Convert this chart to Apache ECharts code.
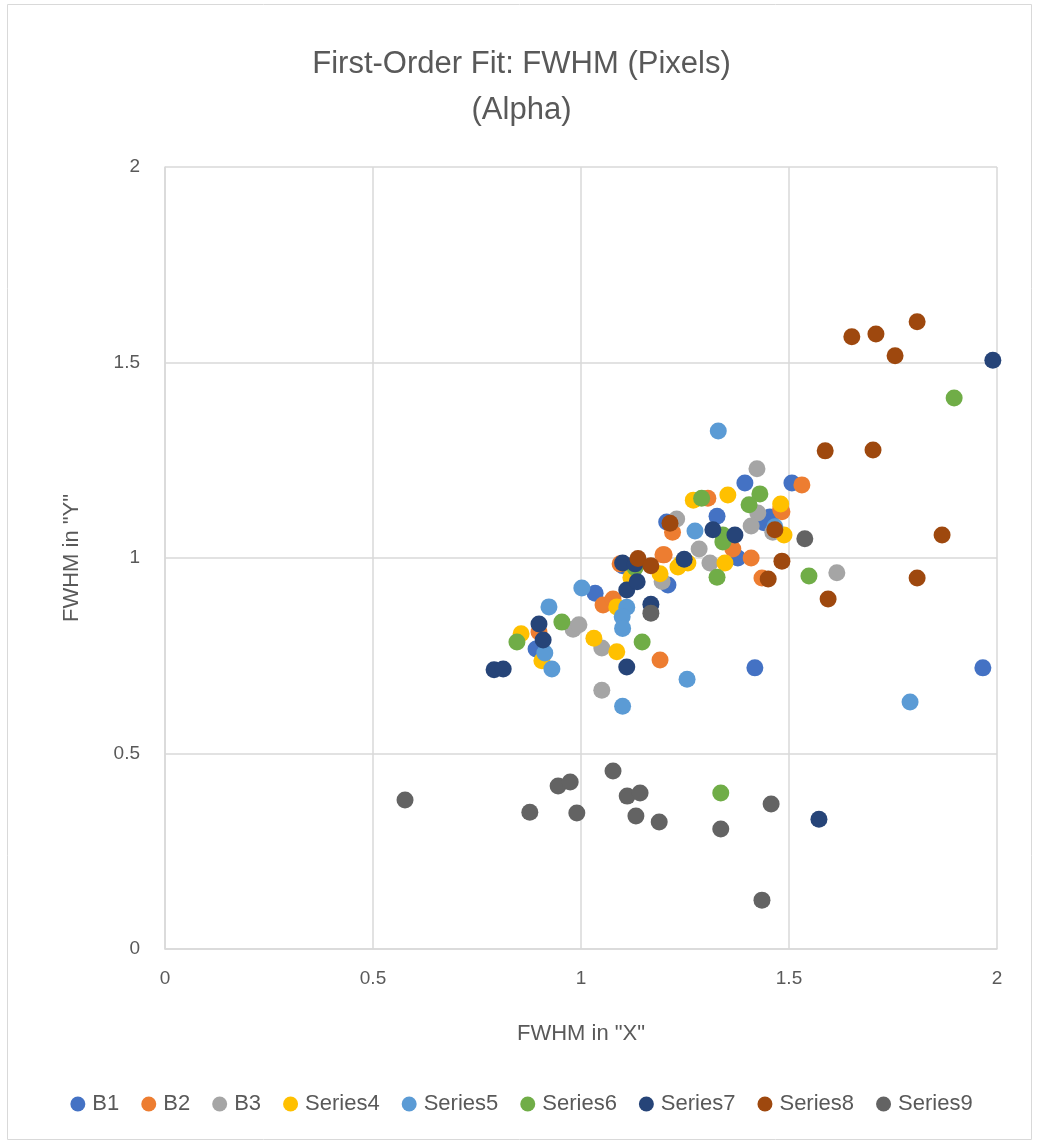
<!DOCTYPE html>
<html><head><meta charset="utf-8">
<script src="https://cdn.jsdelivr.net/npm/echarts@6/dist/echarts.min.js"></script>
<style>html,body{margin:0;padding:0;background:#fff}#c{width:1043px;height:1145px}</style>
</head><body><div id="c"></div>
<script>
const seriesNames = ['B1','B2','B3','Series4','Series5','Series6','Series7','Series8','Series9'];
const colors = ['#4472C4','#ED7D31','#A5A5A5','#FFC000','#5B9BD5','#70AD47','#264478','#9E480E','#636363'];
const xTicks = [0,0.5,1,1.5,2];
const yTicks = [0,0.5,1,1.5,2];

const B1 = [[1.966,0.719],[1.418,0.719],[1.394,1.192],[1.507,1.192],[1.327,1.107],[1.454,1.105],[1.206,1.092],[1.377,1.0],[1.034,0.910],[1.209,0.931],[0.892,0.767],[1.10,0.98],[1.44,1.09]];
const B2 = [[1.531,1.187],[1.305,1.153],[1.483,1.118],[1.22,1.066],[1.365,1.023],[1.20,1.008],[1.409,1.0],[1.435,0.949],[1.19,0.739],[1.053,0.880],[1.077,0.895],[0.899,0.811],[1.094,0.985],[1.197,1.008],[1.48,1.125]];
const B3 = [[1.423,1.228],[1.425,1.115],[1.23,1.10],[1.409,1.082],[1.284,1.023],[1.31,0.987],[1.615,0.962],[1.195,0.94],[0.981,0.818],[0.995,0.829],[1.05,0.77],[1.05,0.662],[1.461,1.066]];
const Series4 = [[1.353,1.161],[1.27,1.148],[1.48,1.138],[1.488,1.059],[1.257,0.987],[1.233,0.977],[1.346,0.987],[1.086,0.875],[0.856,0.806],[0.906,0.737],[1.031,0.795],[1.086,0.760],[1.19,0.96],[1.12,0.95],[1.24,0.985]];
const Series5 = [[1.33,1.325],[1.274,1.069],[1.466,1.08],[1.002,0.923],[1.11,0.874],[1.099,0.85],[1.10,0.82],[0.923,0.875],[0.913,0.757],[0.930,0.716],[1.255,0.69],[1.10,0.621],[1.791,0.632]];
const Series6 = [[1.897,1.409],[1.29,1.153],[1.43,1.164],[1.404,1.136],[1.341,1.059],[1.341,1.041],[1.548,0.954],[1.327,0.951],[0.954,0.836],[0.846,0.785],[1.147,0.785],[1.336,0.399],[1.13,0.975]];
const Series7 = [[1.990,1.506],[1.317,1.072],[1.37,1.059],[1.248,0.997],[1.11,0.918],[1.135,0.939],[1.168,0.882],[0.899,0.831],[0.909,0.790],[0.791,0.714],[0.813,0.716],[1.11,0.721],[1.572,0.332],[1.10,0.987],[1.13,0.985]];
const Series8 = [[1.651,1.566],[1.709,1.573],[1.808,1.604],[1.755,1.517],[1.587,1.274],[1.702,1.276],[1.868,1.059],[1.808,0.949],[1.594,0.895],[1.483,0.992],[1.466,1.072],[1.45,0.946],[1.214,1.089],[1.137,0.999],[1.168,0.98]];
const Series9 = [[0.577,0.381],[0.877,0.350],[0.945,0.417],[0.974,0.427],[0.990,0.348],[1.077,0.455],[1.111,0.391],[1.142,0.399],[1.132,0.340],[1.188,0.325],[1.336,0.307],[1.457,0.371],[1.435,0.125],[1.538,1.049],[1.168,0.859]];
const allData = [B1,B2,B3,Series4,Series5,Series6,Series7,Series8,Series9];

const font = "'Liberation Sans', Arial, sans-serif";
const txt = '#595959';
const chart = echarts.init(document.getElementById('c'));
chart.setOption({
  animation:false,
  color: colors,
  textStyle:{fontFamily:font},
  title:{text:'First-Order Fit: FWHM (Pixels)\n(Alpha)', left:'center', top:36,
    textStyle:{fontSize:31, fontWeight:'normal', color:txt, lineHeight:46, fontFamily:font}},
  legend:{bottom:25, left:'center', itemWidth:15, itemHeight:15, itemGap:22, icon:'circle',
    textStyle:{fontSize:22, color:txt, fontFamily:font, padding:[0,0,0,2]}, data:seriesNames},
  grid:{left:165, right:46, top:167, bottom:196, containLabel:false},
  xAxis:{type:'value', min:xTicks[0], max:xTicks[xTicks.length-1], interval:0.5,
    name:'FWHM in "X"', nameLocation:'middle', nameGap:74,
    nameTextStyle:{fontSize:22, color:txt, fontFamily:font},
    axisLine:{show:true, lineStyle:{color:'#d9d9d9', width:1.5}},
    axisTick:{show:false},
    axisLabel:{fontSize:19, color:txt, margin:20, formatter:v=>String(v)},
    splitLine:{show:true, lineStyle:{color:'#d9d9d9', width:1.5}}},
  yAxis:{type:'value', min:yTicks[0], max:yTicks[yTicks.length-1], interval:0.5,
    name:'FWHM in "Y"', nameLocation:'middle', nameGap:82, nameRotate:90,
    nameTextStyle:{fontSize:22, color:txt, fontFamily:font},
    axisLine:{show:true, lineStyle:{color:'#d9d9d9', width:1.5}},
    axisTick:{show:false},
    axisLabel:{fontSize:19, color:txt, margin:25, formatter:v=>String(v)},
    splitLine:{show:true, lineStyle:{color:'#d9d9d9', width:1.5}}},
  graphic:[{type:'rect', shape:{x:7.5,y:4.5,width:1024,height:1135}, style:{fill:null, stroke:'#d9d9d9', lineWidth:1}, silent:true}],
  series: seriesNames.map((n,i)=>({name:n, type:'scatter', data:allData[i], symbol:'circle', symbolSize:17,
    itemStyle:{color:colors[i], opacity:1}}))
});
</script></body></html>
